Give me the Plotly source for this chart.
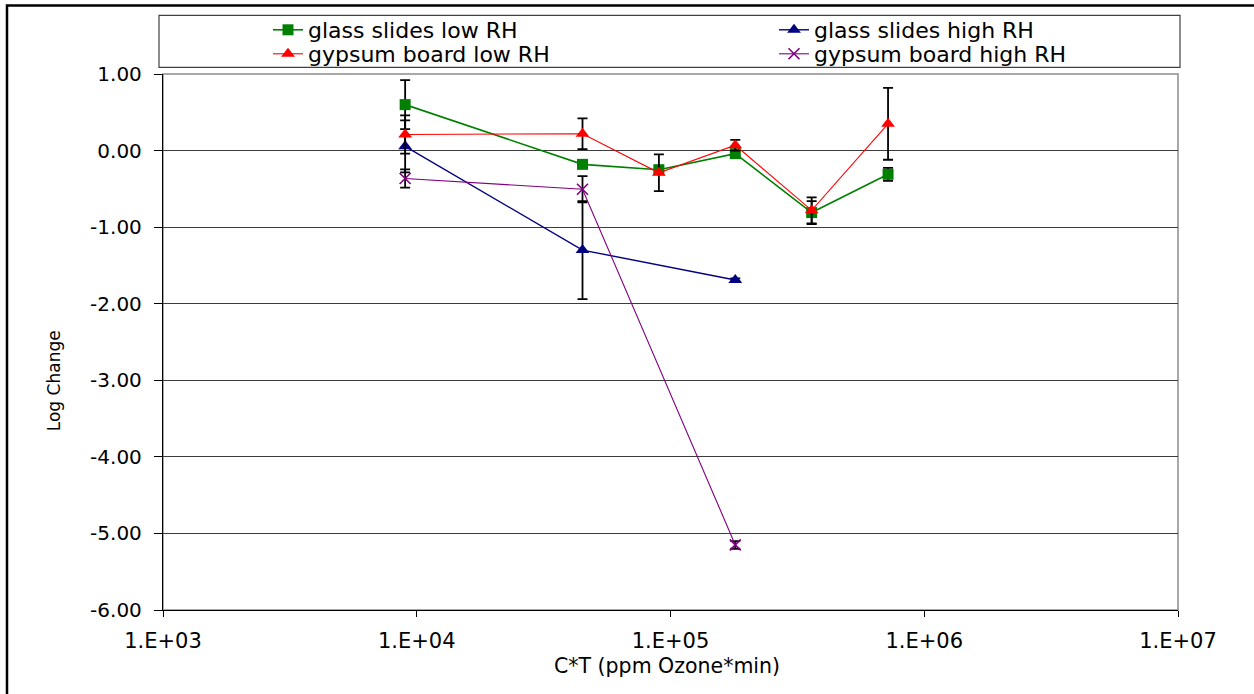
import plotly.graph_objects as go

# ---- data ----
x_six = [9000, 45000, 90000, 180000, 360000, 720000]
x_three = [9000, 45000, 180000]

glass_low = [0.60, -0.18, -0.25, -0.04, -0.81, -0.31]
glass_low_err = [0.32, 0.04, 0.05, 0.03, 0.15, 0.085]

gypsum_low = [0.21, 0.22, -0.29, 0.07, -0.78, 0.35]
gypsum_low_err = [0.25, 0.20, 0.24, 0.07, 0.17, 0.47]

glass_high = [0.055, -1.30, -1.69]
glass_high_err = [0.34, 0.64, 0.02]

gypsum_high = [-0.365, -0.505, -5.15]
gypsum_high_err = [0.12, 0.17, 0.05]

x_tickvals = [1e3, 1e4, 1e5, 1e6, 1e7]
x_ticktext = ["1.E+03", "1.E+04", "1.E+05", "1.E+06", "1.E+07"]
y_tickvals = [1, 0, -1, -2, -3, -4, -5, -6]
y_ticktext = ["1.00", "0.00", "-1.00", "-2.00", "-3.00", "-4.00", "-5.00", "-6.00"]

FONT = "DejaVu Sans, Liberation Sans, Arial, sans-serif"

def err(arr):
    return dict(type="data", array=arr, arrayminus=arr, visible=True,
                color="black", thickness=1.8, width=5)

W, H = 1254, 694
L, R, T, B = 163, 76, 74, 84
pw, ph = W - L - R, H - T - B

def px(xp):
    return (xp - L) / pw

def py(yp):
    return (H - B - yp) / ph

fig = go.Figure()
fig.add_trace(go.Scatter(
    x=x_six, y=glass_low, name="glass slides low RH", mode="lines+markers",
    line=dict(color="#008000", width=1.6),
    marker=dict(symbol="square", size=11, color="#008000"),
    error_y=err(glass_low_err), legend="legend"))
fig.add_trace(go.Scatter(
    x=x_three, y=glass_high, name="glass slides high RH", mode="lines+markers",
    line=dict(color="#000080", width=1.4),
    marker=dict(symbol="triangle-up", size=12, color="#000080"),
    error_y=err(glass_high_err), legend="legend2"))
fig.add_trace(go.Scatter(
    x=x_six, y=gypsum_low, name="gypsum board low RH", mode="lines+markers",
    line=dict(color="#FF0000", width=1.1),
    marker=dict(symbol="triangle-up", size=12, color="#FF0000"),
    error_y=err(gypsum_low_err), legend="legend3"))
fig.add_trace(go.Scatter(
    x=x_three, y=gypsum_high, name="gypsum board high RH", mode="lines+markers",
    line=dict(color="#800080", width=1.1),
    marker=dict(symbol="x-thin-open", size=11, color="#800080",
                line=dict(color="#800080", width=1.6)),
    error_y=err(gypsum_high_err), legend="legend4"))

def leg(xp, yp):
    return dict(x=xp / W, xref="container", xanchor="left",
                y=1 - yp / H, yref="container", yanchor="top",
                font=dict(family=FONT, size=22, color="black"),
                bgcolor="rgba(0,0,0,0)", borderwidth=0)

fig.update_layout(
    width=W, height=H,
    margin=dict(l=L, r=R, t=T, b=B, autoexpand=False),
    paper_bgcolor="white", plot_bgcolor="white",
    font=dict(family=FONT, size=20, color="black"),
    showlegend=True,
    legend=leg(268, 9),
    legend2=leg(774, 9),
    legend3=leg(268, 33),
    legend4=leg(774, 33),
    xaxis=dict(
        type="log", range=[3, 7], tickvals=x_tickvals, ticktext=x_ticktext,
        showgrid=False, zeroline=False,
        showline=True, linecolor="black", linewidth=1.3,
        ticks="outside", ticklen=6, tickcolor="black", tickwidth=1,
        ticklabelstandoff=6,
        tickfont=dict(family=FONT, size=21, color="black")),
    yaxis=dict(
        range=[-6, 1], tickvals=y_tickvals, ticktext=y_ticktext,
        showgrid=True, gridcolor="#3c3c3c", gridwidth=1, zeroline=False,
        showline=True, linecolor="black", linewidth=1.3,
        ticks="outside", ticklen=8, tickcolor="black", tickwidth=1,
        ticklabelstandoff=8,
        tickfont=dict(family=FONT, size=20, color="black")),
    shapes=[
        # plot area border (gray)
        dict(type="rect", xref="paper", yref="paper", x0=0, x1=1, y0=0, y1=1,
             line=dict(color="#8c8c8c", width=1.5), layer="below"),
        # legend box
        dict(type="rect", xref="paper", yref="paper",
             x0=px(159), x1=px(1180), y0=py(67.3), y1=py(15.3),
             line=dict(color="#404040", width=1.2), layer="above"),
        # outer chart border
        dict(type="rect", xref="paper", yref="paper",
             x0=px(7), x1=px(1275), y0=py(715), y1=py(5.5),
             line=dict(color="black", width=2.5), layer="above"),
    ],
    annotations=[
        dict(text="Log Change", xref="paper", yref="paper",
             x=px(54.7), y=py(380.5), xanchor="center", yanchor="middle",
             textangle=-90, showarrow=False,
             font=dict(family=FONT, size=17, color="black")),
        dict(text="C*T (ppm Ozone*min)", xref="paper", yref="paper",
             x=px(667), y=py(666), xanchor="center", yanchor="middle",
             showarrow=False, font=dict(family=FONT, size=20.5, color="black")),
    ],
)

fig.write_html("out.html",
               config={"displayModeBar": False},
               post_script="document.body.style.margin='0';document.body.style.padding='0';")
